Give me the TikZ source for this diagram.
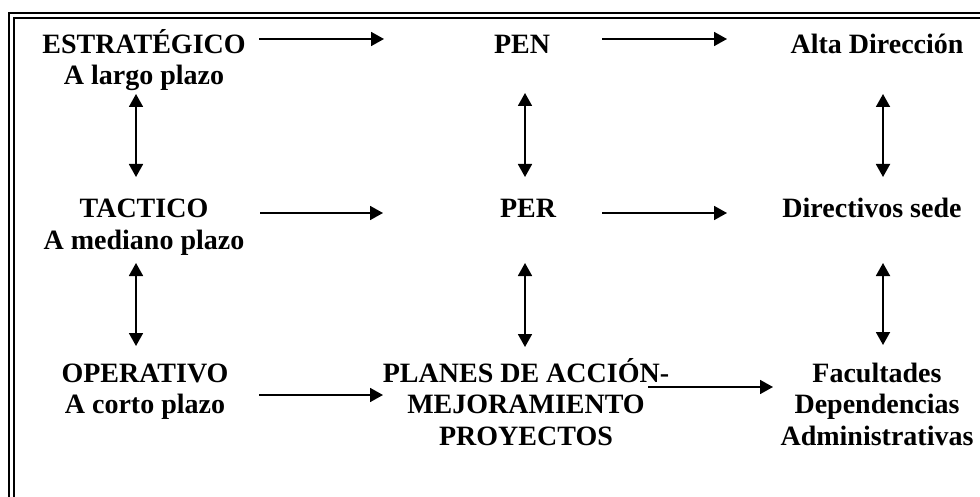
\documentclass[tikz,border=0pt]{standalone}
\usepackage{fontspec}
\setmainfont{Liberation Serif}
\usetikzlibrary{arrows.meta}
\newcommand\fstrut{\rule{0pt}{28pt}}
\tikzset{
  lbl/.style={anchor=north, inner sep=0pt, align=center,
    font=\fontsize{28}{31.5}\selectfont\bfseries},
  harr/.style={line width=1.8pt, -{Triangle[length=13pt,width=14pt]}},
  varr/.style={line width=1.8pt, {Triangle[length=13pt,width=14pt]}-{Triangle[length=13pt,width=14pt]}},
  frame/.style={line width=2pt}
}
\begin{document}
\begin{tikzpicture}[x=1pt,y=-1pt]
\useasboundingbox (0,0) rectangle (980,497);
% frame
\draw[frame] (8.5,497) -- (8.5,13.5) -- (980,13.5);
\draw[frame] (13.5,497) -- (13.5,17.8) -- (980,17.8);
% nodes
\node[lbl] (est)  at (144,25)    {\fstrut ESTRATÉGICO\\A largo plazo};
\node[lbl] (pen)  at (522,25)    {\fstrut PEN};
\node[lbl] (alta) at (877,25)    {\fstrut Alta Dirección};
\node[lbl] (tac)  at (144,189.5) {\fstrut TACTICO\\A mediano plazo};
\node[lbl] (per)  at (528,189.5) {\fstrut PER};
\node[lbl] (dir)  at (872,189.5) {\fstrut Directivos sede};
\node[lbl] (ope)  at (145,354)   {\fstrut OPERATIVO\\A corto plazo};
\node[lbl] (pla)  at (526,354)   {\fstrut PLANES DE ACCIÓN-\\MEJORAMIENTO\\PROYECTOS};
\node[lbl] (fac)  at (877,354)   {\fstrut Facultades\\Dependencias\\Administrativas};
% connector end points
\coordinate (h1a) at (259,39);  \coordinate (h1b) at (384,39);
\coordinate (h2a) at (602,39);  \coordinate (h2b) at (727,39);
\coordinate (h3a) at (260,213); \coordinate (h3b) at (383,213);
\coordinate (h4a) at (602,213); \coordinate (h4b) at (727,213);
\coordinate (h5a) at (259,395); \coordinate (h5b) at (383,395);
\coordinate (h6a) at (648,387); \coordinate (h6b) at (773,387);
\coordinate (v1a) at (136,94);  \coordinate (v1b) at (136,177);
\coordinate (v2a) at (136,263); \coordinate (v2b) at (136,346);
\coordinate (v3a) at (525,93);  \coordinate (v3b) at (525,177);
\coordinate (v4a) at (525,263); \coordinate (v4b) at (525,347);
\coordinate (v5a) at (883,94);  \coordinate (v5b) at (883,177);
\coordinate (v6a) at (883,263); \coordinate (v6b) at (883,345);
% horizontal arrows
\draw[harr] (h1a) -- (h1b);
\draw[harr] (h2a) -- (h2b);
\draw[harr] (h3a) -- (h3b);
\draw[harr] (h4a) -- (h4b);
\draw[harr] (h5a) -- (h5b);
\draw[harr] (h6a) -- (h6b);
% vertical double arrows
\draw[varr] (v1a) -- (v1b);
\draw[varr] (v2a) -- (v2b);
\draw[varr] (v3a) -- (v3b);
\draw[varr] (v4a) -- (v4b);
\draw[varr] (v5a) -- (v5b);
\draw[varr] (v6a) -- (v6b);
\end{tikzpicture}
\end{document}
